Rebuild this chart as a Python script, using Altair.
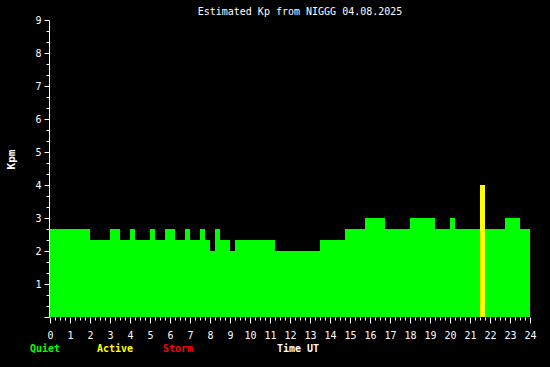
import altair as alt
import pandas as pd

# Kp segments (hours UT) and values
seg_start = [0, 2, 3, 3.5, 4, 4.25, 5, 5.25, 5.75, 6.25, 6.75, 7, 7.5, 7.75, 8, 8.25,
             8.5, 9, 9.25, 11.25, 13.5, 14.75, 15.75, 16.75, 18, 19.25, 20, 20.25,
             21.5, 21.75, 22.75, 23.5]
seg_end = seg_start[1:] + [24]
kp = [2.667, 2.333, 2.667, 2.333, 2.667, 2.333, 2.667, 2.333, 2.667, 2.333, 2.667, 2.333,
      2.667, 2.333, 2.0, 2.667, 2.333, 2.0, 2.333, 2.0, 2.333, 2.667, 3.0, 2.667, 3.0,
      2.667, 3.0, 2.667, 4.0, 2.667, 3.0, 2.667]
levels = ["Quiet", "Active", "Storm"]
level_colors = ["#00ff00", "#ffff00", "#ff0000"]

x_ticks = [i / 4 for i in range(97)]
y_ticks = [i / 3 for i in range(28)]

df = pd.DataFrame({"start": seg_start, "end": seg_end, "kp": kp})
df["level"] = ["Quiet" if v < 4 else ("Active" if v < 5 else "Storm") for v in kp]

FONT = "DejaVu Sans Mono"

bars = alt.Chart(df).mark_rect().encode(
    x=alt.X("start:Q", scale=alt.Scale(domain=[0, 24], nice=False, zero=False),
            axis=alt.Axis(values=x_ticks, domain=False, grid=False,
                          labelExpr="datum.value % 1 === 0 ? datum.value : ''",
                          tickSize={"condition": {"test": "datum.value % 1 === 0", "value": 6}, "value": 3},
                          tickColor="white", labelColor="white", labelFont=FONT,
                          labelFontSize=10, labelPadding=7, labelFlush=False,
                          labelOverlap=False, title=None)),
    x2="end:Q",
    y=alt.Y("kp:Q", scale=alt.Scale(domain=[0, 9], nice=False),
            axis=alt.Axis(values=y_ticks, grid=False, domainColor="white", offset=1,
                          labelExpr="(abs(datum.value - round(datum.value)) < 0.01 && datum.value > 0.5) ? round(datum.value) : ''",
                          tickSize={"condition": {"test": "abs(datum.value - round(datum.value)) < 0.01", "value": 5}, "value": 3},
                          tickColor="white", labelColor="white", labelFont=FONT,
                          labelFontSize=10, labelPadding=3, labelOverlap=False,
                          title="Kpm", titleColor="white", titleFont=FONT, titleFontSize=11,
                          titleFontWeight="bold", titleAngle=270, titleX=-38, titleY=139,
                          titleAlign="center", titleBaseline="middle")),
    y2=alt.datum(0),
    color=alt.Color("level:N", scale=alt.Scale(domain=levels, range=level_colors), legend=None),
)

def label(text, color, xpx):
    return alt.Chart(pd.DataFrame({"t": [text]})).mark_text(
        font=FONT, fontSize=10, fontWeight="bold", color=color, baseline="middle", align="center"
    ).encode(text="t:N", x=alt.value(xpx), y=alt.value(329))

chart = alt.layer(
    bars,
    label(levels[0], level_colors[0], -5),
    label(levels[1], level_colors[1], 65),
    label(levels[2], level_colors[2], 128),
    label("Time UT", "white", 248),
).properties(
    width=480, height=297,
    background="black",
    padding={"left": 50, "top": 20, "right": 20, "bottom": 50},
    autosize=alt.AutoSizeParams(type="none"),
    title=alt.TitleParams("Estimated Kp from NIGGG 04.08.2025", color="white", font=FONT,
                          fontSize=10, fontWeight="normal", anchor="middle", dx=10, dy=6, offset=4),
).configure_view(stroke=None)

chart.save("out.html", embed_options={"renderer": "svg", "actions": False})
